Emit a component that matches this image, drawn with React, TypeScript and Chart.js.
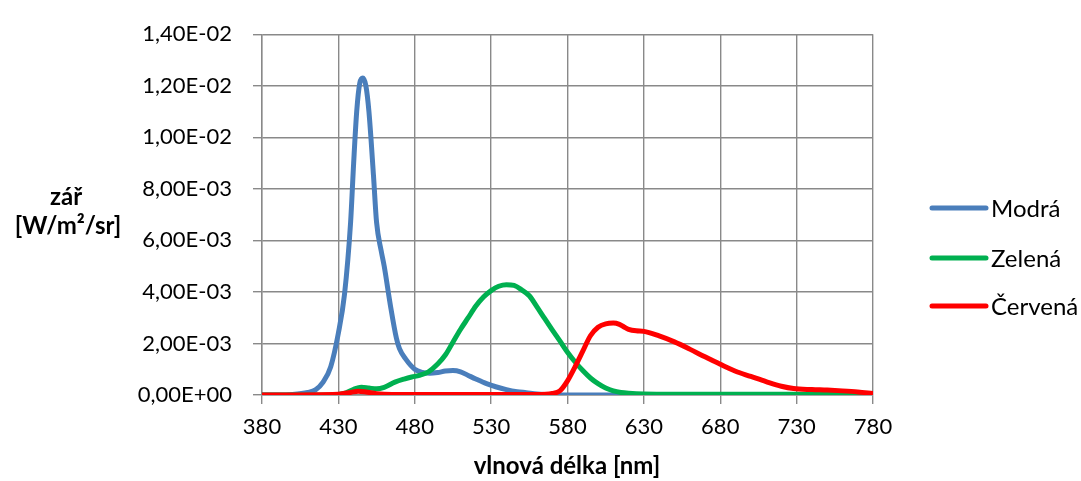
import React, { useEffect, useRef } from "react";
import { Chart, registerables } from "chart.js";

Chart.register(...registerables);

// Series names and colours
const seriesNames = ["Modrá", "Zelená", "Červená"];
const seriesColors = ["#4A7EBB", "#00B050", "#FF0000"];

// Values are in units of 1e-3 W/m²/sr
const blueNm = [380, 390, 400, 410, 415, 420, 425, 430, 434, 438, 440, 442, 444, 446, 448, 450, 453, 455, 458, 460, 464, 468, 470, 474, 480, 485, 490, 495, 500, 505, 510, 515, 520, 527, 533, 540, 547, 553, 560, 565, 570, 580, 600, 650, 700, 750, 780];
const blueVal = [0, 0, 0.02, 0.1, 0.2, 0.5, 1.1, 2.4, 3.9, 6.7, 9.0, 11.0, 12.1, 12.3, 12.0, 11.0, 8.5, 6.7, 5.6, 5.0, 3.5, 2.2, 1.8, 1.4, 1.0, 0.88, 0.84, 0.87, 0.93, 0.95, 0.9, 0.76, 0.62, 0.44, 0.32, 0.21, 0.13, 0.09, 0.04, 0.02, 0.01, 0, 0, 0, 0, 0, 0];

const greenNm = [380, 420, 430, 435, 440, 445, 450, 455, 460, 467, 473, 478, 483, 489, 495, 500, 505, 510, 515, 520, 525, 530, 535, 540, 545, 550, 555, 560, 565, 570, 575, 580, 585, 590, 595, 600, 605, 610, 615, 620, 630, 650, 700, 750, 780];
const greenVal = [0, 0, 0.02, 0.08, 0.22, 0.3, 0.27, 0.24, 0.3, 0.5, 0.62, 0.7, 0.76, 0.9, 1.2, 1.55, 2.05, 2.55, 3.0, 3.45, 3.8, 4.05, 4.22, 4.28, 4.25, 4.08, 3.85, 3.42, 2.97, 2.53, 2.1, 1.66, 1.28, 0.95, 0.66, 0.44, 0.27, 0.16, 0.1, 0.07, 0.04, 0.03, 0.03, 0.02, 0.02];

const redNm = [380, 430, 438, 443, 448, 455, 465, 560, 570, 575, 580, 585, 590, 595, 600, 605, 610, 614, 617, 620, 625, 630, 640, 650, 660, 670, 680, 690, 700, 710, 720, 728, 740, 750, 760, 770, 780];
const redVal = [0, 0.03, 0.1, 0.15, 0.12, 0.05, 0.02, 0.02, 0.06, 0.16, 0.55, 1.1, 1.7, 2.3, 2.63, 2.76, 2.79, 2.74, 2.64, 2.55, 2.49, 2.47, 2.29, 2.06, 1.78, 1.48, 1.19, 0.92, 0.72, 0.52, 0.34, 0.25, 0.21, 0.19, 0.16, 0.12, 0.06];

const xTicks = [380, 430, 480, 530, 580, 630, 680, 730, 780];
const yTicks = [0, 0.002, 0.004, 0.006, 0.008, 0.01, 0.012, 0.014];

const xTitle = "vlnová délka [nm]";
const yTitleLines = ["zář", "[W/m²/sr]"];

const FONT = "Lato";
const GRID = "#898989";

function fmtSci(v: number): string {
  if (Math.abs(v) < 1e-12) return "0,00E+00";
  const e = Math.floor(Math.log10(Math.abs(v)) + 1e-9);
  const m = v / Math.pow(10, e);
  return (
    m.toFixed(2).replace(".", ",") +
    "E" +
    (e < 0 ? "-" : "+") +
    String(Math.abs(e)).padStart(2, "0")
  );
}

function toPoints(nm: number[], val: number[]) {
  return nm.map((x, i) => ({ x, y: val[i] * 1e-3 }));
}

const overlayPlugin = {
  id: "overlay",
  afterDraw(chart: any) {
    const ctx = chart.ctx;
    ctx.save();
    ctx.fillStyle = "#000";
    // x title
    ctx.font = `bold 24px ${FONT}`;
    ctx.textAlign = "center";
    ctx.textBaseline = "middle";
    ctx.fillText(xTitle, 567, 466);
    // y title (horizontal, two lines)
    ctx.fillText(yTitleLines[0], 66, 197);
    ctx.fillText(yTitleLines[1], 68, 226);
    // legend
    const ys = [208, 258, 306];
    ctx.font = `24px ${FONT}`;
    ctx.textAlign = "left";
    chart.data.datasets.forEach((ds: any, i: number) => {
      ctx.strokeStyle = ds.borderColor;
      ctx.lineWidth = 5;
      ctx.lineCap = "round";
      ctx.beginPath();
      ctx.moveTo(932, ys[i]);
      ctx.lineTo(986, ys[i]);
      ctx.stroke();
      ctx.fillText(ds.label, 991, ys[i] + 1);
    });
    ctx.restore();
  },
};

export default function App() {
  const ref = useRef<HTMLCanvasElement | null>(null);
  useEffect(() => {
    document.body.style.margin = "0";
    const canvas = ref.current!;
    const chart = new Chart(canvas, {
      type: "line",
      data: {
        datasets: [
          { label: seriesNames[0], data: toPoints(blueNm, blueVal), borderColor: seriesColors[0], order: 3 },
          { label: seriesNames[1], data: toPoints(greenNm, greenVal), borderColor: seriesColors[1], order: 2 },
          { label: seriesNames[2], data: toPoints(redNm, redVal), borderColor: seriesColors[2], order: 1 },
        ].map((d) => ({
          ...d,
          borderWidth: 5,
          pointRadius: 0,
          fill: false,
          cubicInterpolationMode: "monotone" as const,
          borderCapStyle: "round" as const,
          borderJoinStyle: "round" as const,
        })),
      },
      options: {
        animation: false,
        responsive: false,
        maintainAspectRatio: false,
        layout: { padding: { left: 0, right: 208, top: 26, bottom: 0 } },
        plugins: {
          legend: { display: false },
          tooltip: { enabled: false },
        },
        scales: {
          x: {
            type: "linear",
            min: 380,
            max: 780,
            afterBuildTicks: (s: any) => {
              s.ticks = xTicks.map((v) => ({ value: v }));
            },
            afterFit: (s: any) => {
              s.height = 86;
            },
            grid: { color: GRID, lineWidth: 1.4, tickLength: 9, tickColor: GRID, drawTicks: true },
            border: { color: GRID, width: 1.4 },
            ticks: {
              color: "#000",
              font: { family: FONT, size: 22 },
              padding: 10,
              maxRotation: 0,
              autoSkip: false,
              callback: (v: any) => String(v),
            },
          },
          y: {
            type: "linear",
            min: 0,
            max: 0.014,
            afterBuildTicks: (s: any) => {
              s.ticks = yTicks.map((v) => ({ value: v }));
            },
            afterFit: (s: any) => {
              s.width = 262;
            },
            grid: { color: GRID, lineWidth: 1.4, tickLength: 9, tickColor: GRID, drawTicks: true },
            border: { color: GRID, width: 1.4 },
            ticks: {
              color: "#000",
              font: { family: FONT, size: 22 },
              padding: 21,
              autoSkip: false,
              callback: (v: any) => fmtSci(Number(v)),
            },
          },
        },
      },
      plugins: [overlayPlugin],
    });
    return () => chart.destroy();
  }, []);
  return (
    <div style={{ position: "absolute", left: 0, top: 0, width: 1081, height: 481, background: "#fff" }}>
      <canvas ref={ref} width={1081} height={481} style={{ display: "block" }} />
    </div>
  );
}
